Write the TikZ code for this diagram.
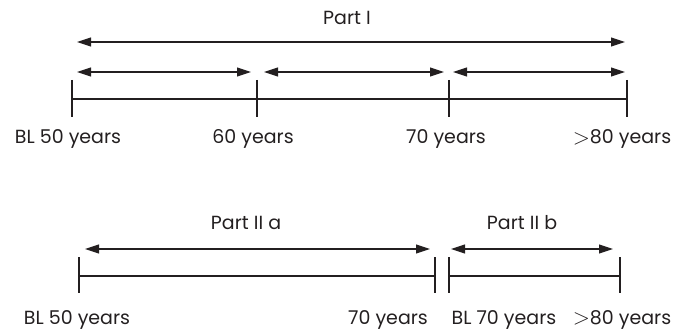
\documentclass[tikz,border=0pt]{standalone}
\usepackage{fontspec}
\usepackage{graphicx}
\setmainfont{Poppins}
\usetikzlibrary{arrows.meta}
\definecolor{ink}{HTML}{231F20}
\newcommand{\gtsym}{\raisebox{-0.6pt}{\scalebox{1.3}{$>$}}}
\begin{document}
\begin{tikzpicture}[x=1pt,y=-1pt,line width=1.1pt,draw=ink,
  lbl/.style={anchor=base,text=ink,font=\fontsize{19}{22}\selectfont,inner sep=0pt},
  dbl/.style={{Triangle[length=14pt,width=9pt]}-{Triangle[length=14pt,width=9pt]}},
  tickmark/.style={draw=ink}]
\useasboundingbox (0,0) rectangle (687,331);
% top timeline
\coordinate (u1) at (72,80);  \coordinate (d1) at (72,117);  \coordinate (m1) at (72,99);
\coordinate (u2) at (257,80); \coordinate (d2) at (257,117); \coordinate (m2) at (257,99);
\coordinate (u3) at (449,80); \coordinate (d3) at (449,117); \coordinate (m3) at (449,99);
\coordinate (u4) at (627,80); \coordinate (d4) at (627,117); \coordinate (m4) at (627,99);
\draw[tickmark] (u1) -- (d1); \draw[tickmark] (u2) -- (d2);
\draw[tickmark] (u3) -- (d3); \draw[tickmark] (u4) -- (d4);
\draw (m1) -- (m4);
\coordinate (pa) at (77,42); \coordinate (pb) at (625,42);
\draw[dbl] (pa) -- (pb);
\coordinate (s1a) at (77,72);  \coordinate (s1b) at (251,72);
\coordinate (s2a) at (264,72); \coordinate (s2b) at (444,72);
\coordinate (s3a) at (453,72); \coordinate (s3b) at (625,72);
\draw[dbl] (s1a) -- (s1b);
\draw[dbl] (s2a) -- (s2b);
\draw[dbl] (s3a) -- (s3b);
\node[lbl] (tPI) at (347,25) {Part I};
\node[lbl] (l1) at (68,144) {BL 50 years};
\node[lbl] (l2) at (253,144) {60 years};
\node[lbl] (l3) at (446,144) {70 years};
\node[lbl] (l4) at (622,144) {\gtsym80 years};
% bottom timelines
\coordinate (bu1) at (79,257);  \coordinate (bd1) at (79,293);  \coordinate (bm1) at (79,276);
\coordinate (bu2) at (435,257); \coordinate (bd2) at (435,293); \coordinate (bm2) at (435,276);
\coordinate (bu3) at (449,257); \coordinate (bd3) at (449,293); \coordinate (bm3) at (449,276);
\coordinate (bu4) at (620,257); \coordinate (bd4) at (620,293); \coordinate (bm4) at (620,276);
\draw[tickmark] (bu1) -- (bd1); \draw[tickmark] (bu2) -- (bd2);
\draw[tickmark] (bu3) -- (bd3); \draw[tickmark] (bu4) -- (bd4);
\draw (bm1) -- (bm2);
\draw (bm3) -- (bm4);
\coordinate (aa) at (85,249);  \coordinate (ab) at (430,249);
\coordinate (ba) at (451,249); \coordinate (bb) at (613,249);
\draw[dbl] (aa) -- (ab);
\draw[dbl] (ba) -- (bb);
\node[lbl] (tIIa) at (246,229) {Part II a};
\node[lbl] (tIIb) at (522,229) {Part II b};
\node[lbl] (bl1) at (77,324) {BL 50 years};
\node[lbl] (bl2) at (388,324) {70 years};
\node[lbl] (bl3) at (504,324) {BL 70 years};
\node[lbl] (bl4) at (622,324) {\gtsym80 years};
\end{tikzpicture}
\end{document}
